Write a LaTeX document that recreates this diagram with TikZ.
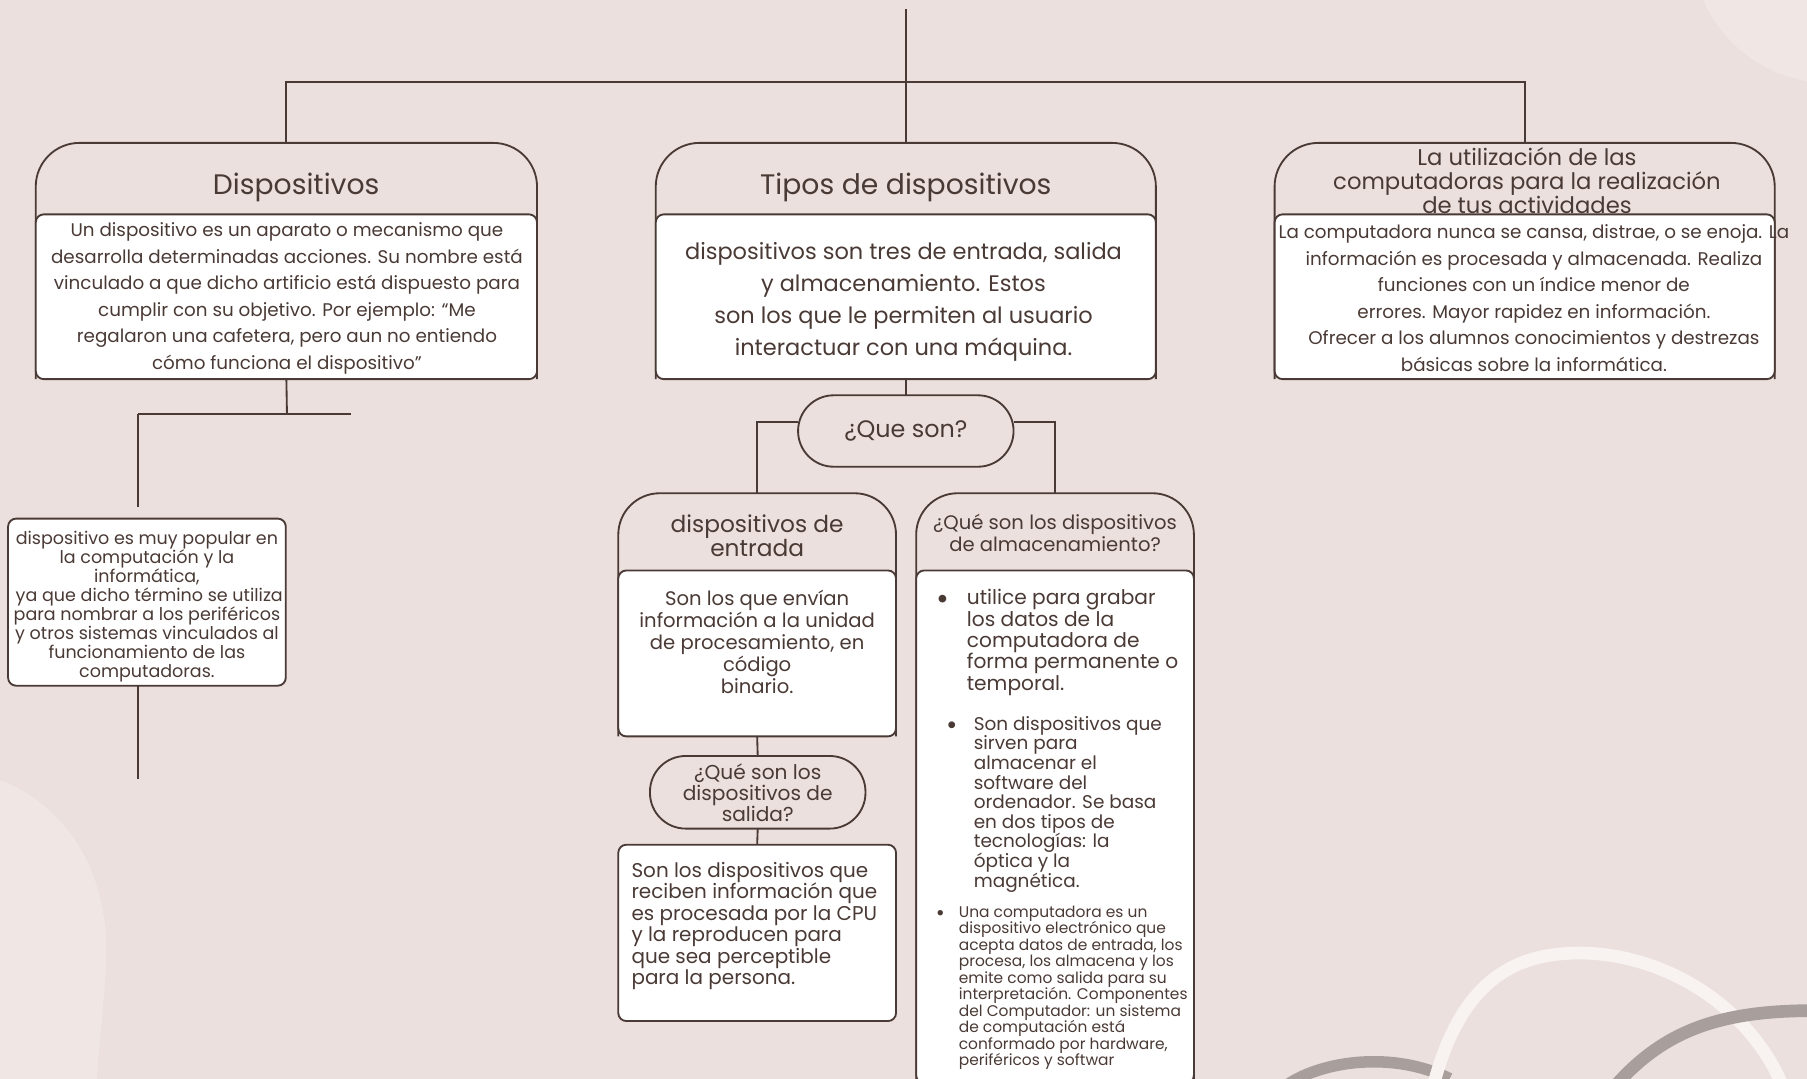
\documentclass[tikz,border=0pt]{standalone}
\usepackage{fontspec}
\setmainfont{Poppins}
\usetikzlibrary{calc}
\definecolor{bgc}{HTML}{EBE0DD}
\definecolor{lightc}{HTML}{F0E7E5}
\definecolor{inkc}{HTML}{4A3A35}
\definecolor{whitec}{HTML}{F8F3F1}
\definecolor{greyc}{HTML}{A89E9C}
\newcommand\myfs[2]{\fontsize{#1}{#2}\selectfont}
\begin{document}
\begin{tikzpicture}[x=1pt,y=-1pt,
  ink/.style={draw=inkc,line width=1.6pt},
  card/.style={inner sep=0pt,outer sep=0pt},
  hdr/.style={ink,rounded corners=#1},
  bodybox/.style={ink,fill=white,rounded corners=7pt,inner sep=0pt,outer sep=0pt},
  pill/.style={ink,fill=bgc,rounded corners=31pt,inner sep=0pt,outer sep=0pt,minimum width=187pt,minimum height=62pt},
  txt/.style={text=inkc,inner sep=0pt,outer sep=0pt,align=center},
  ltxt/.style={text=inkc,inner sep=0pt,outer sep=0pt,align=left},
  dot/.style={text=inkc,inner sep=0pt,outer sep=0pt},
]
% background
\fill[bgc] (0,0) rectangle (1568,936);
\useasboundingbox (0,0) rectangle (1568,936);
\begin{scope}
\clip (0,0) rectangle (1568,936);
\fill[lightc] (1588,-48) circle[radius=120];
\fill[lightc] (0,677) .. controls (60,700) and (95,760) .. (92,833) .. controls (90,880) and (85,910) .. (84,940) -- (0,940) -- cycle;
\draw[greyc,line width=10pt] (1112,945) .. controls (1140,922) and (1205,910) .. (1258,936);
\draw[whitec,line width=11pt] (1243,945) .. controls (1268,845) and (1320,827) .. (1371,827) .. controls (1440,827) and (1520,870) .. (1550,950);
\draw[greyc,line width=11pt] (1395,950) .. controls (1440,895) and (1490,876) .. (1580,877);
\end{scope}

% ---------- top connectors
\coordinate (top) at (786,8);
\node[card,minimum width=435pt,minimum height=205pt] (card1) at (248.5,226.5) {};
\node[card,minimum width=434pt,minimum height=205pt] (card2) at (786,226.5) {};
\node[card,minimum width=434pt,minimum height=205pt] (card5) at (1323,226.5) {};
\draw[ink] (top) -- (card2.north);
\draw[ink] (card1.north) -- ++(0,-53) -| (card5.north);

% ---------- card 1
\draw[hdr=38pt] (card1.south west) -- (card1.north west) -- (card1.north east) -- (card1.south east);
\node[txt,font=\myfs{24.5}{27}] (h1) at (257,162.5) {Dispositivos};
\node[bodybox,minimum width=435pt,minimum height=143pt] (b1) at (248.5,257.5) {};
\node[txt,font=\myfs{15.9}{23}] (t1) at (249,259) {Un dispositivo es un aparato o mecanismo que\\
desarrolla determinadas acciones. Su nombre está\\
vinculado a que dicho artificio está dispuesto para\\
cumplir con su objetivo. Por ejemplo: “Me\\
regalaron una cafetera, pero aun no entiendo\\
cómo funciona el dispositivo”};

% ---------- card 2
\draw[hdr=38pt] (card2.south west) -- (card2.north west) -- (card2.north east) -- (card2.south east);
\node[txt,font=\myfs{24.5}{27}] (h2) at (786,162.5) {Tipos de dispositivos};
\node[bodybox,minimum width=434pt,minimum height=143pt] (b2) at (786,257.5) {};
\node[txt,font=\myfs{19.5}{28}] (t2) at (784,262) {dispositivos son tres de entrada, salida\\
y almacenamiento. Estos\\
son los que le permiten al usuario\\
interactuar con una máquina.};

% ---------- card 5
\draw[hdr=38pt] (card5.south west) -- (card5.north west) -- (card5.north east) -- (card5.south east);
\node[txt,font=\myfs{19.7}{21}] (h5) at (1325,157) {La utilización de las\\
computadoras para la realización\\
de tus actividades};
\node[bodybox,minimum width=434pt,minimum height=143pt] (b5) at (1323,257.5) {};
\node[txt,font=\myfs{15.9}{23}] (t5) at (1331,258.5) {La computadora nunca se cansa, distrae, o se enoja. La\\
información es procesada y almacenada. Realiza\\
funciones con un índice menor de\\
errores. Mayor rapidez en información.\\
Ofrecer a los alumnos conocimientos y destrezas\\
básicas sobre la informática.};

% ---------- left chain
\coordinate (j1) at (249,359);
\coordinate (j2) at (120,359);
\coordinate (j3) at (305,359);
\coordinate (j4) at (120,440);
\coordinate (j5) at (120,676);
\draw[ink] (b1.south) -- (j1);
\draw[ink] (j2) -- (j3);
\draw[ink] (j2) -- (j4);
\node[bodybox,minimum width=241pt,minimum height=145pt] (pop) at (127.5,522.5) {};
\node[txt,font=\myfs{15.2}{16.4}] (tpop) at (127.5,526.5) {dispositivo es muy popular en\\
la computación y la\\
informática,\\
\ ya que dicho término se utiliza\\
para nombrar a los periféricos\\
y otros sistemas vinculados al\\
funcionamiento de las\\
computadoras.};
\draw[ink] (j5 |- pop.south) -- (j5);

% ---------- ¿Que son?
\node[pill,minimum height=62pt] (que) at (786,374) {};
\node[txt,font=\myfs{20.7}{22}] (tque) at (786,374) {¿Que son?};
\draw[ink] (b2.south) -- (que.north);

\node[card,minimum width=241pt,minimum height=211pt] (card3) at (657,533.5) {};
\node[card,minimum width=241pt,minimum height=512pt] (card4) at (915.5,684) {};
\draw[ink] ([yshift=8pt]que.west) -| (card3.north);
\draw[ink] ([yshift=8pt]que.east) -| (card4.north);

% ---------- card 3 (entrada)
\draw[hdr=36pt] (card3.south west) -- (card3.north west) -- (card3.north east) -- (card3.south east);
\node[txt,font=\myfs{20.2}{21}] (h3) at (657,465) {dispositivos de\\entrada};
\node[bodybox,minimum width=241pt,minimum height=144pt] (b3) at (657,567) {};
\node[txt,font=\myfs{17}{19}] (t3) at (657,557) {Son los que envían\\
información a la unidad\\
de procesamiento, en\\
código\\
binario.};

% ---------- salida
\node[pill,minimum height=63pt] (sal) at (657.5,687.5) {};
\node[txt,font=\myfs{17.5}{18}] (tsal) at (657.5,688) {¿Qué son los\\dispositivos de\\salida?};
\draw[ink] (b3.south) -- (sal.north);
\node[bodybox,minimum width=241pt,minimum height=153pt] (b6) at (657,809.5) {};
\draw[ink] (sal.south) -- (b6.north);
\node[ltxt,font=\myfs{17.3}{18.7},anchor=north west] (t6) at (548,748) {Son los dispositivos que\\
reciben información que\\
es procesada por la CPU\\
y la reproducen para\\
que sea perceptible\\
para la persona.};

% ---------- card 4 (almacenamiento)
\draw[hdr=36pt] (card4.south west) -- (card4.north west) -- (card4.north east) -- (card4.south east);
\node[txt,font=\myfs{17}{17}] (h4) at (915.5,462.5) {¿Qué son los dispositivos\\de almacenamiento?};
\node[bodybox,minimum width=241pt,minimum height=445pt] (b4) at (915.5,717.5) {};
\node[dot,font=\myfs{27}{27}] (d1) at (818,522.5) {•};
\node[ltxt,font=\myfs{17.5}{18.5},anchor=north west] (u1) at (839,511.5) {utilice para grabar\\
los datos de la\\
computadora de\\
forma permanente o\\
temporal.};
\node[dot,font=\myfs{24}{24}] (d2) at (826,631.5) {•};
\node[ltxt,font=\myfs{16}{17},anchor=north west] (u2) at (845,621.5) {Son dispositivos que\\
sirven para\\
almacenar el\\
software del\\
ordenador. Se basa\\
en dos tipos de\\
tecnologías: la\\
óptica y la\\
magnética.};
\node[dot,font=\myfs{19}{19}] (d3) at (816,794) {•};
\node[ltxt,font=\myfs{13.4}{14.3},anchor=north west] (u3) at (832,786) {Una computadora es un\\
dispositivo electrónico que\\
acepta datos de entrada, los\\
procesa, los almacena y los\\
emite como salida para su\\
interpretación. Componentes\\
del Computador: un sistema\\
de computación está\\
conformado por hardware,\\
periféricos y softwar};
\end{tikzpicture}
\end{document}
